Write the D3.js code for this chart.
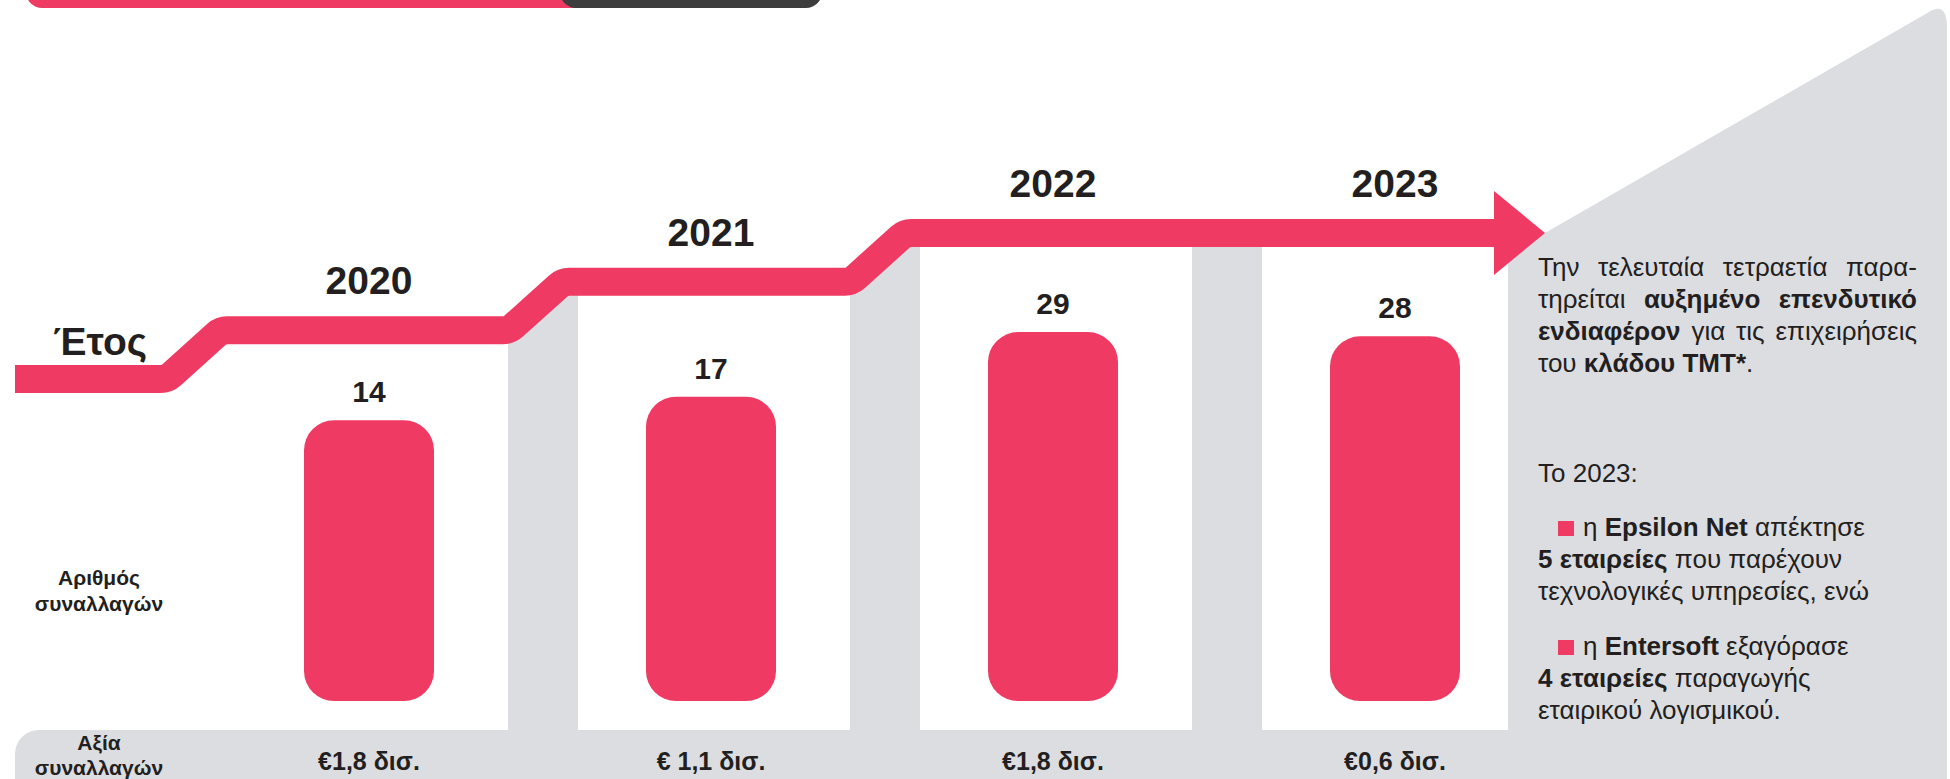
<!DOCTYPE html>
<html>
<head>
  <meta charset="utf-8">
  <title>Συναλλαγές κλάδου TMT</title>
  <script src="https://cdn.jsdelivr.net/npm/d3@7"></script>
  <style>
    body { margin: 0; background: #fff; }
    svg { display: block; }
    text { font-family: "Liberation Sans", Arial, Helvetica, sans-serif; fill: #231f20; }
    .bold { font-weight: bold; }
  </style>
</head>
<body>
  <svg width="1950" height="779"></svg>

  <script>
    // ---- data ----
    var years = ["2020", "2021", "2022", "2023"];
    var dealCounts = [14, 17, 29, 28];
    var dealValues = ["€1,8 δισ.", "€ 1,1 δισ.", "€1,8 δισ.", "€0,6 δισ."];
    var yearStep = [1, 2, 3, 3];   // step of the timeline arrow above each year

    var summaryLines = [
      [["Την τελευταία τετραετία παρα-", false]],
      [["τηρείται ", false], ["αυξημένο επενδυτικό", true]],
      [["ενδιαφέρον", true], [" για τις επιχειρήσεις", false]],
      [["του ", false], ["κλάδου ΤΜΤ*", true], [".", false]]
    ];
    var introLine = "Το 2023:";
    var bullets = [
      [
        [["η ", false], ["Epsilon Net", true], [" απέκτησε", false]],
        [["5 εταιρείες", true], [" που παρέχουν", false]],
        [["τεχνολογικές υπηρεσίες, ενώ", false]]
      ],
      [
        [["η ", false], ["Entersoft", true], [" εξαγόρασε", false]],
        [["4 εταιρείες", true], [" παραγωγής", false]],
        [["εταιρικού λογισμικού.", false]]
      ]
    ];

    var pink = "#ef3b63", grey = "#dcdde0", dark = "#3d3d3d";

    var svg = d3.select("svg");
    var W = +svg.attr("width"), H = +svg.attr("height");

    var barBottom = 701, bandTop = 730, panelLeft = 1508, arrowW = 28;

    var x = d3.scalePoint().domain(years).range([369, 1395]);
    var step = x.step();
    var y = d3.scaleLog().domain([10, 30]).range([461, 328]);
    var level = d3.scaleLinear().domain([0, 3]).range([379, 233]);

    // ---- arrow centre line ----
    var pts = [[15, level(0)]];
    var prev = 0;
    years.forEach(function(yr, i) {
      if (yearStep[i] !== prev) {
        var rc = x(yr) - step / 2 - 4;
        pts.push([rc - 27, level(prev)]);
        pts.push([rc + 27, level(yearStep[i])]);
        prev = yearStep[i];
      }
    });
    var headBase = x(years[3]) + 99;
    pts.push([headBase + 6, level(prev)]);

    function rounded(p, r) {
      var path = d3.path();
      path.moveTo(p[0][0], p[0][1]);
      for (var i = 1; i < p.length - 1; i++) path.arcTo(p[i][0], p[i][1], p[i + 1][0], p[i + 1][1], r);
      path.lineTo(p[p.length - 1][0], p[p.length - 1][1]);
      return path.toString();
    }

    // clip region: everything below the arrow centre line
    var clipPts = pts.concat([[W, level(prev)], [W, H], [0, H], [0, level(0)]]);
    svg.append("clipPath").attr("id", "below")
      .append("path").attr("d", d3.line()(clipPts) + "Z");

    // ---- header remnants ----
    svg.append("rect").attr("x", 26).attr("y", -40).attr("width", 590).attr("height", 48)
      .attr("rx", 16).attr("fill", pink);
    svg.append("rect").attr("x", 560).attr("y", -40).attr("width", 262).attr("height", 48)
      .attr("rx", 16).attr("fill", dark);

    // ---- grey background shapes ----
    svg.append("rect").attr("x", 15).attr("y", bandTop).attr("width", 1932).attr("height", 75)
      .attr("rx", 24).attr("fill", grey);

    svg.append("g").attr("clip-path", "url(#below)")
      .selectAll("rect").data(years.slice(1)).enter().append("rect")
      .attr("x", function(d, i) { return (x(years[i]) + x(d)) / 2 + 3 - 35; })
      .attr("y", 0).attr("width", 70).attr("height", bandTop + 5)
      .attr("fill", grey);

    var tipX = headBase + 51, tipY = level(prev);
    var panel = d3.path();
    panel.moveTo(panelLeft, tipY + 20);
    panel.lineTo(tipX, tipY);
    panel.lineTo(1929, 12);
    panel.quadraticCurveTo(1947, 1, 1947, 28);
    panel.lineTo(1947, 752);
    panel.quadraticCurveTo(1947, 779, 1922, 779);
    panel.lineTo(panelLeft, 779);
    panel.closePath();
    svg.append("path").attr("d", panel.toString()).attr("fill", grey);

    // ---- arrow ----
    svg.append("path").attr("d", rounded(pts, 16))
      .attr("fill", "none").attr("stroke", pink).attr("stroke-width", arrowW);
    svg.append("path")
      .attr("d", d3.line()([[headBase, tipY - 42], [tipX, tipY], [headBase, tipY + 42]]) + "Z")
      .attr("fill", pink);

    // ---- bars ----
    var cols = svg.append("g").selectAll("g").data(years).enter().append("g");
    cols.append("rect")
      .attr("x", function(d) { return x(d) - 65; })
      .attr("y", function(d, i) { return y(dealCounts[i]); })
      .attr("width", 130)
      .attr("height", function(d, i) { return barBottom - y(dealCounts[i]); })
      .attr("rx", 30)
      .attr("fill", pink);
    cols.append("text")
      .attr("class", "bold").attr("text-anchor", "middle")
      .attr("x", function(d) { return x(d); })
      .attr("y", function(d, i) { return y(dealCounts[i]) - 18; })
      .style("font-size", "30px")
      .text(function(d, i) { return dealCounts[i]; });
    cols.append("text")
      .attr("class", "bold").attr("text-anchor", "middle")
      .attr("x", function(d) { return x(d); })
      .attr("y", function(d, i) { return level(yearStep[i]) - 36; })
      .style("font-size", "39px")
      .text(function(d) { return d; });
    cols.append("text")
      .attr("class", "bold").attr("text-anchor", "middle")
      .attr("x", function(d) { return x(d); })
      .attr("y", 770)
      .style("font-size", "25px")
      .text(function(d, i) { return dealValues[i]; });

    // ---- row labels ----
    svg.append("text").attr("class", "bold").attr("text-anchor", "end")
      .attr("x", 147).attr("y", 355).style("font-size", "39px").text("Έτος");
    [["Αριθμός", 585], ["συναλλαγών", 611], ["Αξία", 750], ["συναλλαγών", 775]].forEach(function(l) {
      svg.append("text").attr("class", "bold").attr("text-anchor", "middle")
        .attr("x", 99).attr("y", l[1]).style("font-size", "21px").text(l[0]);
    });

    // ---- right hand text ----
    var fs = 26;
    function words(line) {
      var out = [];
      line.forEach(function(seg) {
        seg[0].split(" ").forEach(function(w, k) {
          if (w === "") return;
          // glue a word to previous one when segment does not start with a space
          if (k === 0 && seg[0][0] !== " " && out.length && !out[out.length - 1].space) {
            out[out.length - 1].parts.push([w, seg[1]]);
          } else {
            out.push({ parts: [[w, seg[1]]] });
          }
        });
        if (seg[0][seg[0].length - 1] === " " && out.length) out[out.length - 1].space = true;
      });
      return out;
    }
    function drawLine(line, x0, yb, width) {
      var ws = words(line);
      var nodes = ws.map(function(w) {
        var t = svg.append("text").attr("y", yb).style("font-size", fs + "px");
        w.parts.forEach(function(p) {
          t.append("tspan").attr("class", p[1] ? "bold" : null).text(p[0]);
        });
        return t;
      });
      var widths = nodes.map(function(t) { return t.node().getComputedTextLength(); });
      var gap = fs * 0.278;
      if (width && ws.length > 1) gap = (width - d3.sum(widths)) / (ws.length - 1);
      var cx = x0;
      nodes.forEach(function(t, i) { t.attr("x", cx); cx += widths[i] + gap; });
    }

    var tx = 1538, tw = 379;
    summaryLines.forEach(function(l, i) {
      drawLine(l, tx, 276 + i * 32, i < 3 ? tw : null);
    });
    svg.append("text").attr("x", tx).attr("y", 482).style("font-size", fs + "px").text(introLine);

    var by = [536, 655];
    bullets.forEach(function(b, j) {
      svg.append("rect").attr("x", 1558).attr("y", by[j] - 15).attr("width", 16).attr("height", 15)
        .attr("fill", pink);
      b.forEach(function(l, i) {
        drawLine(l, i === 0 ? 1583 : tx, by[j] + i * 32, null);
      });
    });
  </script>
</body>
</html>
